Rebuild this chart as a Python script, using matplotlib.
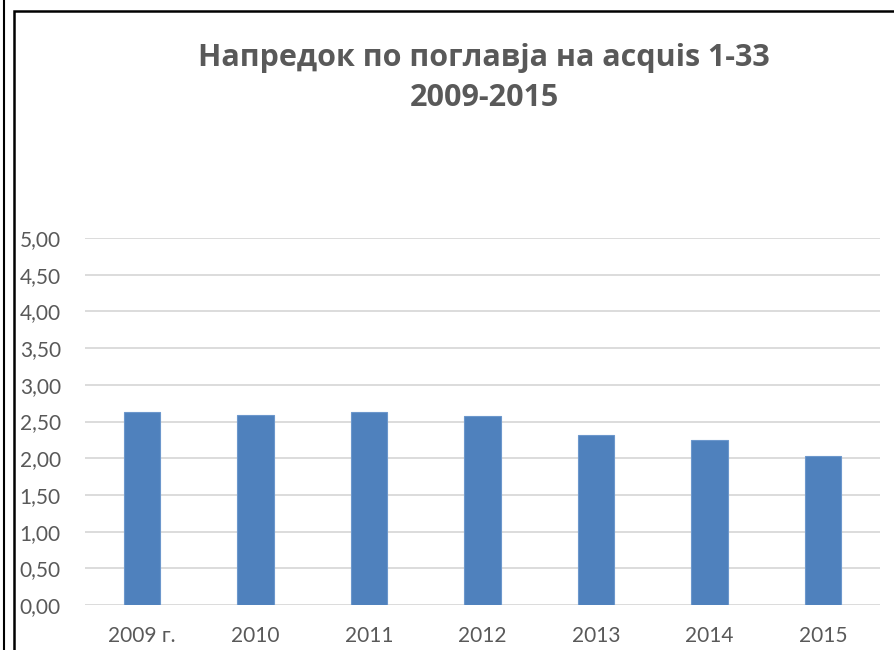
import matplotlib
matplotlib.use("Agg")
import matplotlib.pyplot as plt
from matplotlib.patches import Rectangle
from matplotlib.lines import Line2D

categories = ["2009 г.", "2010", "2011", "2012", "2013", "2014", "2015"]
values = [2.63, 2.59, 2.63, 2.58, 2.31, 2.25, 2.03]
yticks = [0.0, 0.5, 1.0, 1.5, 2.0, 2.5, 3.0, 3.5, 4.0, 4.5, 5.0]
ytick_labels = ["0,00", "0,50", "1,00", "1,50", "2,00", "2,50", "3,00", "3,50", "4,00", "4,50", "5,00"]
title = "Напредок по поглавја на acquis 1-33\n2009-2015"

W, H = 895, 650
fig = plt.figure(figsize=(W / 100, H / 100), dpi=100)
fig.patch.set_facecolor("white")

# outer frame lines
fig.add_artist(Line2D([4 / W, 4 / W], [0, 1], color="black", lw=1.5, transform=fig.transFigure))
fig.add_artist(Rectangle((14 / W, -0.1), 2.0, 1 - 11 / H + 0.1, transform=fig.transFigure,
                         fill=False, edgecolor="black", lw=1.8))

ax = fig.add_axes([85 / W, 1 - 605 / H, (880 - 85) / W, (605 - 238) / H])
x = range(len(categories))
ax.bar(x, values, width=0.32, color="#4f81bd", edgecolor="#6c97cc", linewidth=0.8, zorder=3)
ax.set_xlim(-0.5, len(categories) - 0.5)
ax.set_ylim(0, 5)
ax.set_yticks(yticks)
ax.set_yticklabels(ytick_labels)
ax.set_xticks(list(x))
ax.set_xticklabels(categories)
for s in ax.spines.values():
    s.set_visible(False)
ax.grid(axis="y", color="#d9d9d9", lw=1.3, zorder=0)
ax.tick_params(axis="both", length=0, labelsize=15, labelcolor="#595959")
ax.tick_params(axis="x", pad=15)
ax.tick_params(axis="y", pad=47)
for lab in ax.get_xticklabels() + ax.get_yticklabels():
    lab.set_fontfamily("Lato")
for lab in ax.get_yticklabels():
    lab.set_horizontalalignment("left")

fig.text(484 / W, 1 - 78 / H, title, ha="center", va="center", fontsize=22,
         fontweight="bold", color="#595959", family="Open Sans", linespacing=1.45)

fig.savefig("out.png", dpi=100)
